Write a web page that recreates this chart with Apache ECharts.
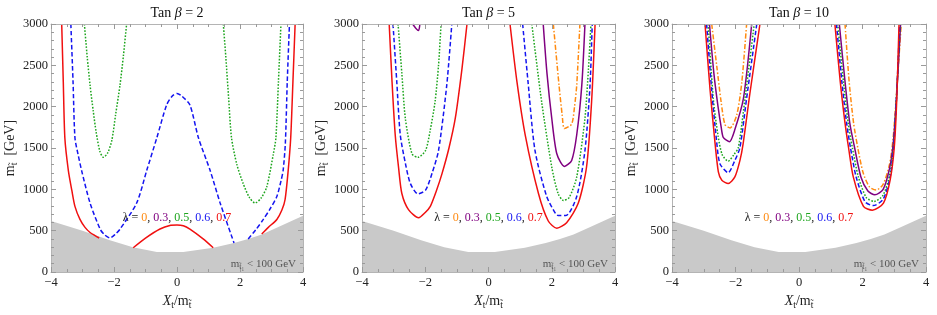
<!DOCTYPE html>
<html><head><meta charset="utf-8">
<script src="https://cdn.jsdelivr.net/npm/echarts@6/dist/echarts.min.js"></script>
<style>html,body{margin:0;padding:0;background:#fff}#c{width:937px;height:315px}</style>
</head><body><div id="c"></div>
<script>
// ---------- data ----------
const titles = ['2', '5', '10'];
const xTicks = [-4, -2, 0, 2, 4];
const yTicks = [0, 500, 1000, 1500, 2000, 2500, 3000];
const lambdaLabels = ['0', '0.3', '0.5', '0.6', '0.7'];

// excluded region (m_stop1 < 100 GeV), same in all panels
const greyX = [-4, -3, -2.13, -1.4, -0.64, 0.2, 1.15, 1.81, 2.26, 2.69, 3.2, 3.6, 4];
const greyY = [616, 500, 385, 300, 241, 241, 293, 352, 398, 455, 540, 610, 680];

// tan beta = 2
const tb2_red_a = [[-3.66,3000],[-3.61,2300],[-3.56,1620],[-3.45,1230],[-3.34,990],[-3.24,794],[-3.08,636],[-2.92,540],[-2.76,478],[-2.6,440],[-2.47,411]];
const tb2_red_b = [[-1.39,293],[-1.0,410],[-0.54,520],[-0.2,565],[0,570],[0.2,560],[0.41,518],[0.83,400],[1.15,293]];
const tb2_red_c = [[2.69,459],[2.9,540],[3.17,636],[3.33,750],[3.43,874],[3.53,1230],[3.61,1624],[3.68,2300],[3.75,3000]];
const tb2_blue_a = [[-3.37,3000],[-3.30,2300],[-3.24,1624],[-3.14,1420],[-3.03,1230],[-2.76,834],[-2.44,518],[-2.3,450],[-2.13,411],[-1.95,460],[-1.81,518],[-1.28,834],[-0.96,1230],[-0.64,1624],[-0.33,2020],[-0.15,2130],[0,2160],[0.15,2130],[0.41,2020],[0.68,1624],[1.05,1230],[1.37,834],[1.73,439],[1.81,352]];
const tb2_blue_b = [[2.26,400],[2.5,510],[2.74,636],[2.95,760],[3.17,913],[3.30,1100],[3.37,1230],[3.44,1560],[3.50,2300],[3.57,3000]];
const tb2_green_a = [[-2.94,3000],[-2.85,2600],[-2.76,2260],[-2.66,1950],[-2.57,1700],[-2.45,1460],[-2.34,1387],[-2.2,1440],[-2.07,1590],[-1.95,1900],[-1.81,2260],[-1.70,2620],[-1.60,3000]];
const tb2_green_b = [[1.47,3000],[1.55,2600],[1.64,2100],[1.73,1624],[1.9,1300],[2.10,1070],[2.3,900],[2.48,834],[2.68,900],[2.85,1030],[3.06,1430],[3.14,1624],[3.22,2300],[3.30,3000]];

// tan beta = 5
const tb5_red_a = [[-3.14,3000],[-3.05,2300],[-2.95,1660],[-2.84,1250],[-2.74,950],[-2.53,755],[-2.21,656],[-2.0,720],[-1.84,794],[-1.65,980],[-1.47,1190],[-1.25,1500],[-1.05,1860],[-0.84,2455],[-0.68,3000]];
const tb5_blue_a = [[-3.02,3000],[-2.90,2300],[-2.79,1660],[-2.62,1300],[-2.47,1070],[-2.23,945],[-1.99,990],[-1.78,1200],[-1.58,1470],[-1.32,2260],[-1.16,3000]];
const tb5_green_a = [[-2.86,3000],[-2.74,2400],[-2.63,1860],[-2.42,1430],[-2.23,1387],[-1.99,1470],[-1.85,1700],[-1.69,2060],[-1.58,2500],[-1.50,3000]];
const tb5_purple_a = [[-2.40,3000],[-2.30,2950],[-2.21,2920],[-2.17,3000]];
const tb5_red_b = [[0.68,3000],[0.9,2300],[1.16,1660],[1.58,950],[1.89,617],[2.16,530],[2.47,597],[2.84,834],[3.10,1270],[3.26,2060],[3.37,3000]];
const tb5_blue_b = [[1.08,3000],[1.25,2300],[1.47,1470],[1.84,913],[2.13,700],[2.2,683],[2.45,683],[2.79,913],[3.05,1470],[3.21,2260],[3.28,3000]];
const tb5_green_b = [[1.37,3000],[1.68,2060],[2.0,1270],[2.2,950],[2.37,866],[2.55,900],[2.79,1150],[3.05,1860],[3.16,2455],[3.24,3000]];
const tb5_purple_b = [[1.73,3000],[1.85,2400],[2.0,1860],[2.16,1430],[2.40,1277],[2.63,1350],[2.79,1660],[2.95,2260],[3.05,3000]];
const tb5_orange_b = [[2.05,3000],[2.23,2260],[2.33,1900],[2.40,1735],[2.63,1790],[2.72,2000],[2.79,2260],[2.89,3000]];

// tan beta = 10
const tb10_red_a = [[-2.96,3000],[-2.80,2200],[-2.66,1620],[-2.54,1210],[-2.43,1110],[-2.23,1071],[-2.02,1150],[-1.86,1350],[-1.76,1550],[-1.55,2150],[-1.23,3000]];
const tb10_blue_a = [[-2.91,3000],[-2.75,2200],[-2.60,1600],[-2.49,1310],[-2.23,1201],[-2.02,1350],[-1.86,1506],[-1.65,2100],[-1.33,3000]];
const tb10_green_a = [[-2.86,3000],[-2.70,2100],[-2.55,1650],[-2.42,1420],[-2.23,1340],[-2.05,1420],[-1.91,1506],[-1.70,2100],[-1.41,3000]];
const tb10_purple_a = [[-2.82,3000],[-2.68,2400],[-2.55,2000],[-2.45,1750],[-2.38,1624],[-2.19,1577],[-2.02,1723],[-1.75,2100],[-1.49,3000]];
const tb10_orange_a = [[-2.75,3000],[-2.59,2490],[-2.45,2050],[-2.33,1782],[-2.17,1743],[-1.96,1900],[-1.80,2300],[-1.65,3000]];
const tb10_red_b = [[1.13,3000],[1.30,2300],[1.45,1800],[1.56,1506],[1.71,1150],[2.03,794],[2.31,747],[2.66,834],[2.87,1111],[3.00,1506],[3.08,2100],[3.15,3000]];
const tb10_blue_b = [[1.18,3000],[1.35,2300],[1.50,1800],[1.62,1506],[1.80,1150],[2.08,850],[2.34,803],[2.65,880],[2.87,1150],[2.98,1506],[3.07,2100],[3.17,3000]];
const tb10_green_b = [[1.22,3000],[1.40,2300],[1.55,1800],[1.68,1506],[1.87,1150],[2.12,900],[2.37,854],[2.65,930],[2.87,1200],[2.98,1530],[3.07,2100],[3.18,3000]];
const tb10_purple_b = [[1.27,3000],[1.45,2300],[1.60,1800],[1.75,1506],[1.95,1150],[2.17,980],[2.39,933],[2.65,1000],[2.85,1250],[2.97,1560],[3.07,2100],[3.20,3000]];
const tb10_orange_b = [[1.45,3000],[1.58,2300],[1.72,1800],[1.85,1506],[2.02,1200],[2.22,1030],[2.43,992],[2.65,1060],[2.85,1300],[2.96,1600],[3.06,2100],[3.22,3000]];

// ---------- styles ----------
const FONT = "'Liberation Serif', 'DejaVu Serif', serif";
const COL = { orange: '#ff8a10', purple: '#800080', green: '#1ea51e', blue: '#1414f0', red: '#f01010' };
const DASH = { orange: [5, 2, 1.5, 2], purple: 'solid', green: [1.6, 1.6], blue: [4.5, 2.5], red: 'solid' };

const panels = [
  { orange: [], purple: [], green: [tb2_green_a, tb2_green_b], blue: [tb2_blue_a, tb2_blue_b], red: [tb2_red_a, tb2_red_b, tb2_red_c] },
  { orange: [tb5_orange_b], purple: [tb5_purple_a, tb5_purple_b], green: [tb5_green_a, tb5_green_b], blue: [tb5_blue_a, tb5_blue_b], red: [tb5_red_a, tb5_red_b] },
  { orange: [tb10_orange_a, tb10_orange_b], purple: [tb10_purple_a, tb10_purple_b], green: [tb10_green_a, tb10_green_b], blue: [tb10_blue_a, tb10_blue_b], red: [tb10_red_a, tb10_red_b] }
];

const gridBoxes = [
  { left: 51, top: 24, width: 252, height: 253 },
  { left: 362, top: 24, width: 253, height: 253 },
  { left: 672, top: 24, width: 254, height: 253 }
];

const frameColor = '#b4b4b4';
const tickColor = '#9a9a9a';
const labelColor = '#222';

const subRich = {
  n: { fontFamily: FONT, fontSize: 14, color: labelColor },
  i: { fontFamily: FONT, fontSize: 14, fontStyle: 'italic', color: labelColor },
  s: { fontFamily: FONT, fontSize: 9.5, color: labelColor, padding: [7, 0, 0, 0] }
};

const xAxes = [], yAxes = [], series = [], graphics = [];
gridBoxes.forEach((g, i) => {
  const common = {
    type: 'value', gridIndex: i, z: 10,
    splitLine: { show: false },
    axisLine: { show: true, onZero: false, lineStyle: { color: frameColor, width: 1 } },
    axisTick: { show: true, inside: true, length: 5, lineStyle: { color: tickColor } },
    minorTick: { show: true, length: 3, lineStyle: { color: tickColor } }
  };
  xAxes.push(Object.assign({}, common, {
    position: 'bottom', min: xTicks[0], max: xTicks[xTicks.length - 1], interval: 2,
    minorTick: Object.assign({}, common.minorTick, { splitNumber: 4 }),
    axisLabel: { fontFamily: FONT, fontSize: 12.5, color: labelColor, margin: 4,
      formatter: v => String(v).replace('-', '\u2212') },
    name: '{i|X}{s|t}{n|/m}{s|t\u0303}', nameLocation: 'middle', nameGap: 21,
    nameTextStyle: { rich: subRich }
  }));
  xAxes.push(Object.assign({}, common, {
    position: 'top', min: -4, max: 4, interval: 2,
    minorTick: Object.assign({}, common.minorTick, { splitNumber: 4 }),
    axisLabel: { show: false }
  }));
  yAxes.push(Object.assign({}, common, {
    position: 'left', min: yTicks[0], max: yTicks[yTicks.length - 1], interval: 500,
    minorTick: Object.assign({}, common.minorTick, { splitNumber: 5 }),
    axisLabel: { fontFamily: FONT, fontSize: 12.5, color: labelColor, margin: 3,
      formatter: v => String(v) },
    name: '{n|m}{s|t\u0303}{n|  [GeV]}', nameLocation: 'middle', nameGap: 30, nameRotate: 90,
    nameTextStyle: { rich: subRich }
  }));
  yAxes.push(Object.assign({}, common, {
    position: 'right', min: 0, max: 3000, interval: 500,
    minorTick: Object.assign({}, common.minorTick, { splitNumber: 5 }),
    axisLabel: { show: false }
  }));

  // grey excluded region
  series.push({
    type: 'line', xAxisIndex: 2 * i, yAxisIndex: 2 * i, z: 1, silent: true,
    data: greyX.map((x, k) => [x, greyY[k]]), symbol: 'none',
    lineStyle: { width: 0 }, areaStyle: { color: '#c9c9c9', opacity: 1 }
  });
  // contour curves
  ['orange', 'purple', 'green', 'blue', 'red'].forEach(c => {
    panels[i][c].forEach(seg => {
      series.push({
        type: 'line', xAxisIndex: 2 * i, yAxisIndex: 2 * i, z: 3, silent: true,
        data: seg, symbol: 'none', smooth: 0.25, clip: true,
        lineStyle: { color: COL[c], width: 1.5, type: DASH[c] }
      });
    });
  });

  const cx = g.left + g.width / 2;
  // title
  graphics.push({
    type: 'text', x: cx, y: 13, z: 20,
    style: {
      text: '{n|Tan }{b|\u03B2}{n| = ' + titles[i] + '}', align: 'center', verticalAlign: 'middle',
      rich: { n: { fontFamily: FONT, fontSize: 14, fill: '#111' }, b: { fontFamily: FONT, fontSize: 14, fontStyle: 'italic', fill: '#111' } }
    }
  });
  // lambda legend
  const parts = ['{k|\u03BB = }'];
  const keys = ['o', 'p', 'g', 'b', 'r'];
  lambdaLabels.forEach((l, k) => { parts.push('{' + keys[k] + '|' + l + '}'); if (k < 4) parts.push('{k|, }'); });
  const lf = { fontFamily: FONT, fontSize: 12 };
  graphics.push({
    type: 'text', x: cx, y: 218, z: 20,
    style: {
      text: parts.join(''), align: 'center', verticalAlign: 'middle',
      rich: {
        k: Object.assign({ fill: '#222' }, lf), o: Object.assign({ fill: COL.orange }, lf),
        p: Object.assign({ fill: COL.purple }, lf), g: Object.assign({ fill: COL.green }, lf),
        b: Object.assign({ fill: COL.blue }, lf), r: Object.assign({ fill: COL.red }, lf)
      }
    }
  });
  // excluded region label
  graphics.push({
    type: 'text', x: g.left + g.width - 7, y: 264, z: 20,
    style: {
      text: '{n|m}{s|t\u0303\u2081}{n| < 100 GeV}', align: 'right', verticalAlign: 'middle',
      rich: {
        n: { fontFamily: FONT, fontSize: 11, fill: '#555' },
        s: { fontFamily: FONT, fontSize: 8, fill: '#555', padding: [6, 0, 0, 0] }
      }
    }
  });
});

const chart = echarts.init(document.getElementById('c'), null, { renderer: 'canvas' });
chart.setOption({
  animation: false,
  backgroundColor: '#fff',
  grid: gridBoxes.map(g => Object.assign({ containLabel: false }, g)),
  xAxis: xAxes,
  yAxis: yAxes,
  series: series,
  graphic: graphics
});
</script>
</body></html>
